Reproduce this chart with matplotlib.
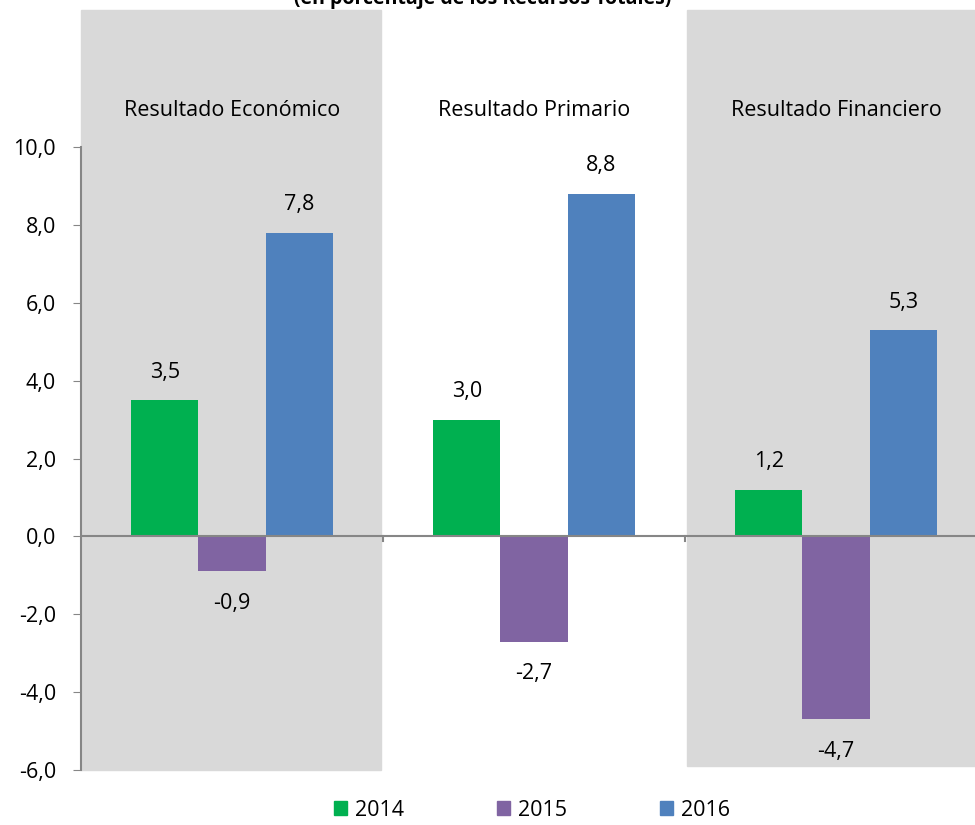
import numpy as np
import matplotlib.pyplot as plt
from matplotlib.patches import Rectangle, Patch

plt.rcParams['font.family'] = ['Open Sans', 'DejaVu Sans']

groups = ['Resultado Económico', 'Resultado Primario', 'Resultado Financiero']
years = ['2014', '2015', '2016']
v2014 = [3.5, 3.0, 1.2]
v2015 = [-0.9, -2.7, -4.7]
v2016 = [7.8, 8.8, 5.3]
labels_2014 = ['3,5', '3,0', '1,2']
labels_2015 = ['-0,9', '-2,7', '-4,7']
labels_2016 = ['7,8', '8,8', '5,3']
yticks = [-6, -4, -2, 0, 2, 4, 6, 8, 10]
ytick_labels = ['-6,0', '-4,0', '-2,0', '0,0', '2,0', '4,0', '6,0', '8,0', '10,0']

colors = ['#00B050', '#8064A2', '#4F81BD']
axis_color = '#868686'
panel_color = '#D9D9D9'
fs = 15.5

fig = plt.figure(figsize=(9.75, 8.25), dpi=100)
ax = fig.add_axes([81 / 975, 55 / 825, 894 / 975, 623 / 825])

x = np.arange(len(groups))
w = 0.223
series = [v2014, v2015, v2016]
lbls = [labels_2014, labels_2015, labels_2016]

# gray background panels for first and last group (figure coords)
fig.patches.append(Rectangle((81 / 975, 1 - 770 / 825), 300 / 975, 760 / 825,
                             transform=fig.transFigure, color=panel_color, zorder=-10))
fig.patches.append(Rectangle((687 / 975, 1 - 766 / 825), 290 / 975, 756 / 825,
                             transform=fig.transFigure, color=panel_color, zorder=-10))
ax.patch.set_alpha(0)

for i, (vals, lab) in enumerate(zip(series, lbls)):
    pos = x + (i - 1) * w
    ax.bar(pos, vals, width=w, color=colors[i], zorder=3)
    for px, v, t in zip(pos, vals, lab):
        off = 20 if v >= 0 else -23
        ax.annotate(t, (px, v), xytext=(0, off), textcoords='offset points',
                    ha='center', va='center', fontsize=fs)

ax.set_xlim(-0.5, 2.46)
ax.set_ylim(-6, 10)
ax.set_yticks(yticks)
ax.set_yticklabels(ytick_labels, fontsize=fs)
ax.tick_params(axis='y', direction='out', length=6, color=axis_color, pad=12)

for s in ['top', 'right', 'bottom']:
    ax.spines[s].set_visible(False)
ax.spines['left'].set_color(axis_color)
ax.spines['left'].set_linewidth(1.5)

ax.axhline(0, color=axis_color, lw=1.5, zorder=4)
ax.set_xticks([])
for b in [0.5, 1.5]:
    ax.plot([b, b], [0, -0.12], color=axis_color, lw=1.5, zorder=4, clip_on=False)

for gx, name in zip(x, groups):
    fig.text((81 + (gx + 0.5) * 302) / 975, 1 - 111 / 825, name,
             ha='center', va='center', fontsize=fs)

fig.text(483 / 975, 1 - 4 / 825, '(en porcentaje de los Recursos Totales)',
         ha='center', va='baseline', fontsize=14, fontweight='bold')

handles = [Patch(color=c) for c in colors]
fig.legend(handles, years, loc='center', bbox_to_anchor=(532 / 975, 1 - 810 / 825),
           ncol=3, frameon=False, fontsize=fs, handlelength=0.6, handleheight=0.6,
           columnspacing=4.35, handletextpad=0.35)

fig.savefig('out.png', dpi=100)
